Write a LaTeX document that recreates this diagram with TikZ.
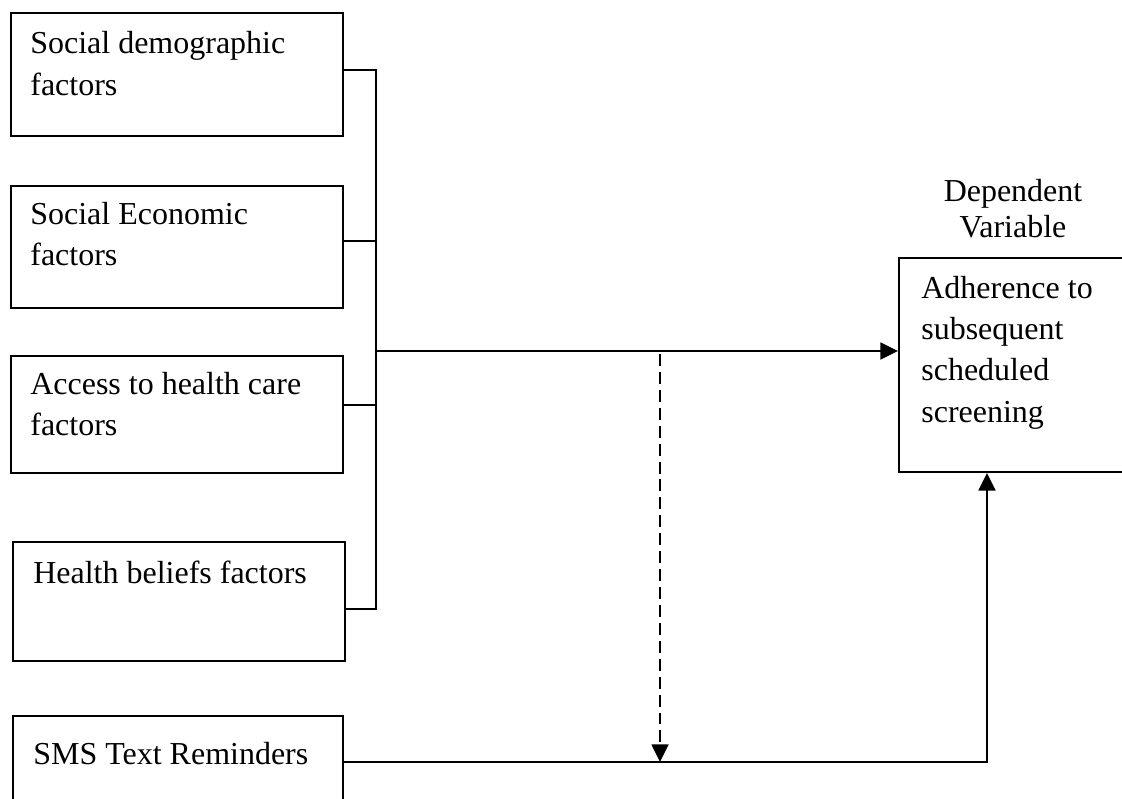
\documentclass[tikz,border=0pt]{standalone}
\usepackage{fontspec}
\setmainfont{Liberation Serif}
\usepackage{tikz}
\usetikzlibrary{arrows.meta,positioning,calc}

\begin{document}
\begin{tikzpicture}[
  factor/.style={rectangle, draw=black, line width=1.1pt, minimum width=6.64cm, anchor=north west, inner sep=0pt},
  boxtext/.style={anchor=north west, align=left, inner sep=0pt, font=\fontsize{18.2}{23.6}\selectfont},
  link/.style={draw=black, line width=1.3pt},
  arr/.style={link, -{Triangle[length=10pt, width=9.5pt]}}
]

\useasboundingbox (0,0) rectangle (22.44,-15.96);
\clip (0,0) rectangle (22.44,-15.96);

% independent factors
\node[factor, minimum height=2.46cm] (demo) at (0.2,-0.24) {};
\node[boxtext] (demotxt) at ($(demo.north west) + (0.4,-0.38)$) {Social demographic\\factors};

\node[factor, minimum height=2.44cm] (econ) at (0.2,-3.70) {};
\node[boxtext] (econtxt) at ($(econ.north west) + (0.4,-0.33)$) {Social Economic\\factors};

\node[factor, minimum height=2.34cm] (access) at (0.2,-7.10) {};
\node[boxtext] (accesstxt) at ($(access.north west) + (0.4,-0.33)$) {Access to health care\\factors};

\node[factor, minimum height=2.38cm] (belief) at (0.24,-10.82) {};
\node[boxtext] (belieftxt) at ($(belief.north west) + (0.42,-0.39)$) {Health beliefs factors};

% moderator
\node[factor, minimum width=6.60cm, minimum height=2.2cm] (sms) at (0.24,-14.30) {};
\node[boxtext] (smstxt) at ($(sms.north west) + (0.42,-0.53)$) {SMS Text Reminders};

% dependent variable
\node[factor, minimum width=4.8cm, minimum height=4.28cm] (adh) at (17.96,-5.14) {};
\node[boxtext] (adhtxt) at ($(adh.north west) + (0.46,-0.37)$) {Adherence to\\subsequent\\scheduled\\screening};
\node[anchor=south, align=center, inner sep=0pt, font=\fontsize{18.2}{20.5}\selectfont] (dv) at (20.26,-4.76) {Dependent\\Variable};

% bus
\coordinate (j1) at (7.52,-1.40);
\coordinate (j2) at (7.52,-4.82);
\coordinate (j3) at (7.52,-8.10);
\coordinate (j4) at (7.52,-12.18);
\coordinate (hub) at (7.52,-7.02);

\draw[link] (j1 -| demo.east) -- (j1) -- (j4) -- (j4 -| belief.east);
\draw[link] (j2 -| econ.east) -- (j2);
\draw[link] (j3 -| access.east) -- (j3);
\draw[arr] (hub) -- (hub -| adh.west);

% reminders
\coordinate (turn) at (19.74,-15.24);
\coordinate (dtop) at (13.2,-7.08);
\draw[arr] (turn -| sms.east) -- (turn) -- (turn |- adh.south);
\draw[arr, dash pattern=on 6.8pt off 3.4pt] (dtop) -- (dtop |- turn);

\end{tikzpicture}
\end{document}
